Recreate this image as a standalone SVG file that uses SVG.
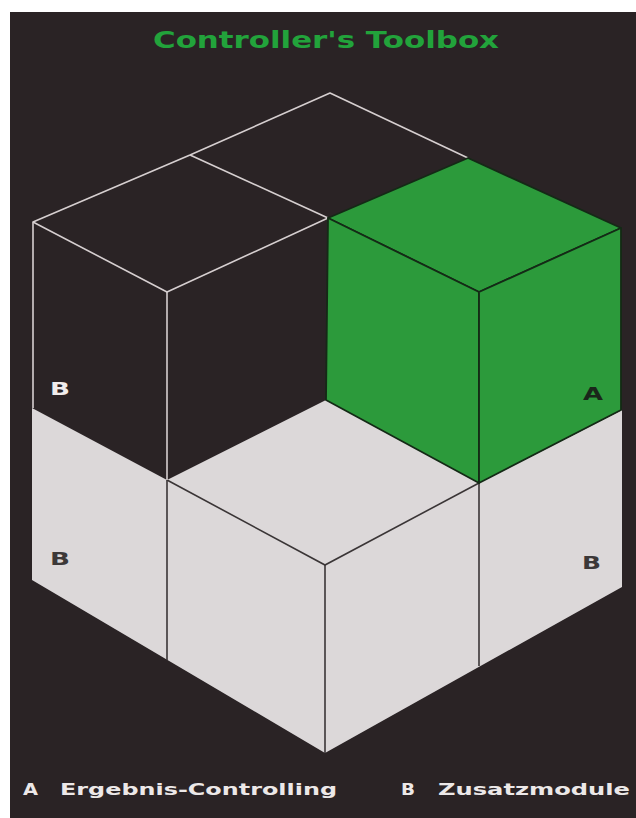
<svg xmlns="http://www.w3.org/2000/svg" width="636" height="818" viewBox="0 0 636 818">
<style>
.wire{fill:none;stroke:#d6cfd0;stroke-width:1.6;stroke-linejoin:round}
.grey{fill:#dcd8d9;stroke:none}
.gline{fill:none;stroke:#3a3536;stroke-width:1.6}
.green{fill:#2c9a3b;stroke:#142a16;stroke-width:1.8;stroke-linejoin:round}
.lbl{font-family:"DejaVu Sans","Liberation Sans",sans-serif;font-weight:bold;font-size:17px}
.leg{font-family:"DejaVu Sans","Liberation Sans",sans-serif;font-weight:bold;font-size:16px;fill:#ece8e8}
</style>
<rect x="0" y="0" width="636" height="818" fill="#ffffff"/>
<rect x="10" y="12" width="626" height="806" fill="#2a2325"/>
<text x="153" y="48" textLength="346" lengthAdjust="spacingAndGlyphs" font-family="DejaVu Sans, Liberation Sans, sans-serif" font-weight="bold" font-size="23" fill="#22a33b">Controller's Toolbox</text>

<g id="bottom-layer">
  <polygon class="grey" points="32,408 167,480 326,400 479,483 622,410 622,587 325,753 32,580"/>
  <polyline class="gline" points="167,480 325,565 479,483"/>
  <line class="gline" x1="167" y1="480" x2="167" y2="660"/>
  <line class="gline" x1="325" y1="565" x2="325" y2="753"/>
  <line class="gline" x1="479" y1="483" x2="479" y2="666"/>
  <text class="lbl" x="50" y="565" textLength="20" lengthAdjust="spacingAndGlyphs" fill="#3c3838">B</text>
  <text class="lbl" x="582" y="569" textLength="19" lengthAdjust="spacingAndGlyphs" fill="#3c3838">B</text>
</g>

<g id="back-cube">
  <polyline class="wire" points="190,155 330,93 468,158"/>
  <line class="wire" x1="190" y1="155" x2="328" y2="218"/>
</g>

<g id="left-cube">
  <polyline class="wire" points="33,408 33,222 190,155"/>
  <polyline class="wire" points="33,222 167,292 328,218"/>
  <line class="wire" x1="167" y1="292" x2="167" y2="480"/>
  <text class="lbl" x="50" y="395" textLength="20" lengthAdjust="spacingAndGlyphs" fill="#f0ecec">B</text>
</g>

<g id="green-cube">
  <polygon class="green" points="468,158 621,228 479,292 328,218"/>
  <polygon class="green" points="328,218 479,292 479,483 326,400"/>
  <polygon class="green" points="479,292 621,228 621,410 479,483"/>
  <text class="lbl" x="583" y="400" textLength="20" lengthAdjust="spacingAndGlyphs" fill="#1a261a">A</text>
</g>

<g id="legend">
  <text class="leg" x="23" y="795" textLength="15" lengthAdjust="spacingAndGlyphs">A</text>
  <text class="leg" x="60" y="795" textLength="277" lengthAdjust="spacingAndGlyphs">Ergebnis-Controlling</text>
  <text class="leg" x="401" y="795" textLength="14" lengthAdjust="spacingAndGlyphs">B</text>
  <text class="leg" x="438" y="795" textLength="192" lengthAdjust="spacingAndGlyphs">Zusatzmodule</text>
</g>
</svg>
